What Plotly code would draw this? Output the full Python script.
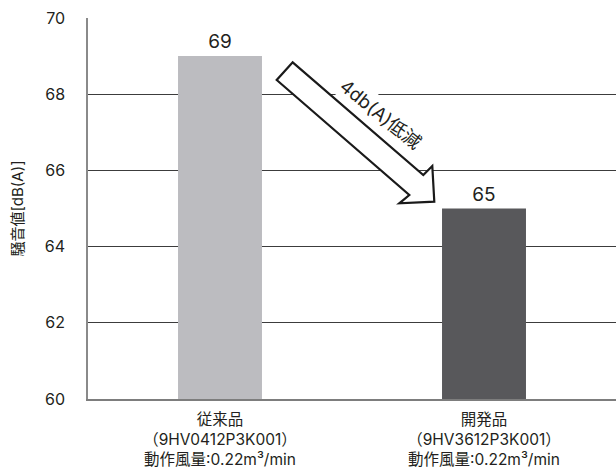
import plotly.graph_objects as go

# Noise level of the conventional vs. new fan
categories = [
    "従来品<br>（9HV0412P3K001）<br>動作風量:0.22m³/min",
    "開発品<br>（9HV3612P3K001）<br>動作風量:0.22m³/min",
]
noise_db = [69, 65]
bar_colors = ["#bcbcc0", "#58585b"]
y_ticks = [60, 62, 64, 66, 68, 70]
arrow_label = "4db(A)低減"
y_title = "騒音値[dB(A)]"

W, H = 616, 471
ML, MR, MT, MB = 88, 0, 18, 72
FONT = "Inter, Noto Sans CJK JP, sans-serif"
TEXT = "#231f20"


def to_paper(px, py):
    """Convert page pixels into paper coordinates of the plot area."""
    pw = W - ML - MR
    ph = H - MT - MB
    return (px - ML) / pw, (H - MB - py) / ph


fig = go.Figure(
    go.Bar(
        x=categories,
        y=noise_db,
        marker=dict(color=bar_colors, line=dict(width=0)),
        width=0.318,
        text=[str(v) for v in noise_db],
        textposition="outside",
        textfont=dict(size=19, color=TEXT, family=FONT),
        cliponaxis=False,
        hoverinfo="skip",
    )
)

# Hollow arrow pointing from the old product down to the new one
arrow_px = [
    (292.7, 62.3),
    (423.3, 175.0),
    (432.3, 166.0),
    (434.3, 201.7),
    (399.3, 203.3),
    (409.3, 195.0),
    (276.7, 80.0),
]
pts = [to_paper(x, y) for x, y in arrow_px]
path = "M " + " L ".join(f"{x:.5f},{y:.5f}" for x, y in pts) + " Z"
fig.add_shape(
    type="path",
    path=path,
    xref="paper",
    yref="paper",
    fillcolor="white",
    line=dict(color="#1a1a1a", width=2.2),
    layer="above",
)

lx, ly = to_paper(381, 114)
fig.add_annotation(
    x=lx,
    y=ly,
    xref="paper",
    yref="paper",
    text=arrow_label,
    textangle=39,
    showarrow=False,
    xanchor="center",
    yanchor="middle",
    bgcolor="white",
    borderpad=2,
    font=dict(size=18.5, color=TEXT, family=FONT),
)

fig.update_layout(
    width=W,
    height=H,
    margin=dict(l=ML, r=MR, t=MT, b=MB, autoexpand=False),
    paper_bgcolor="white",
    plot_bgcolor="white",
    showlegend=False,
    font=dict(family=FONT, color=TEXT),
)

fig.update_xaxes(
    type="category",
    range=[-0.5, 1.5],
    automargin=False,
    showline=True,
    linecolor="#7d7d7d",
    linewidth=2,
    showgrid=False,
    ticks="",
    tickfont=dict(size=15.5, color=TEXT),
    ticklabelstandoff=5,
)

fig.update_yaxes(
    range=[60, 70],
    tickvals=y_ticks,
    automargin=False,
    showline=True,
    linecolor="#8a8a8a",
    linewidth=1.5,
    showgrid=True,
    gridcolor="#3c3c3c",
    gridwidth=1,
    zeroline=False,
    ticks="",
    tickfont=dict(size=16, color=TEXT),
    ticklabelstandoff=18,
    title=dict(text=y_title, font=dict(size=15, color=TEXT), standoff=18),
)

fig.write_html("out.html")
